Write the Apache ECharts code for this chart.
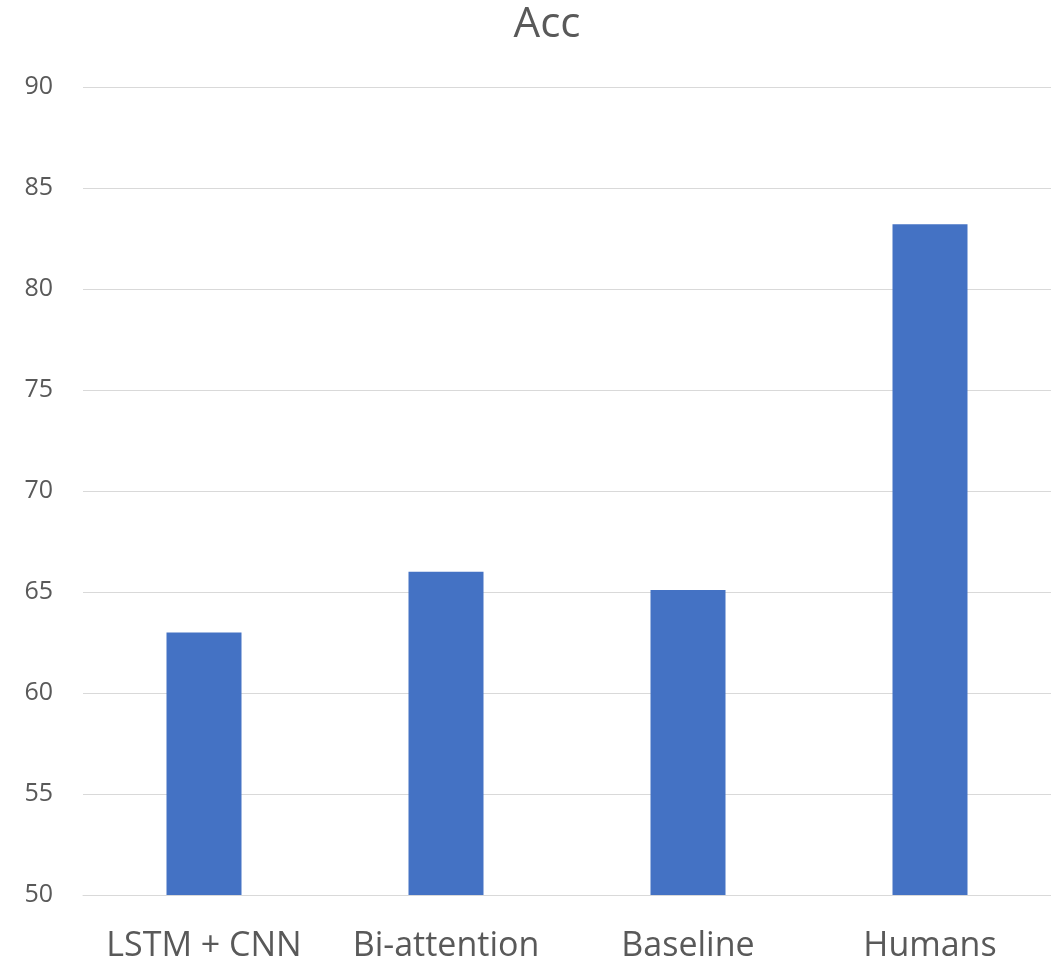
<!DOCTYPE html>
<html>
<head>
<meta charset="utf-8">
<script src="https://cdn.jsdelivr.net/npm/echarts@6/dist/echarts.min.js"></script>
<style>
html,body{margin:0;padding:0;background:#fff;}
#chart{width:1051px;height:968px;}
</style>
</head>
<body>
<div id="chart"></div>
<script>
const categories = ['LSTM + CNN', 'Bi-attention', 'Baseline', 'Humans'];
const accValues = [63.0, 66.0, 65.1, 83.2];
const chartTitle = 'Acc';

const FONT = '"Open Sans", "Noto Sans", sans-serif';
const chart = echarts.init(document.getElementById('chart'));
chart.setOption({
  animation: false,
  backgroundColor: '#ffffff',
  title: {
    text: chartTitle,
    left: 542,
    top: -1,
    textAlign: 'center',
    textStyle: { fontFamily: FONT, fontSize: 42, fontWeight: 'normal', color: '#595959' }
  },
  grid: { left: 83, top: 87, width: 970, height: 808, containLabel: false },
  xAxis: {
    type: 'category',
    data: categories,
    axisLine: { show: true, lineStyle: { color: '#d9d9d9', width: 1 } },
    axisTick: { show: false },
    axisLabel: { interval: 0, hideOverlap: false, margin: 34, fontFamily: FONT, fontSize: 34, color: '#595959' }
  },
  yAxis: {
    type: 'value',
    min: 50, max: 90, interval: 5,
    axisLine: { show: false },
    axisTick: { show: false },
    splitLine: { lineStyle: { color: '#d9d9d9', width: 1 } },
    axisLabel: { margin: 30, fontFamily: FONT, fontSize: 25, color: '#595959' }
  },
  series: [{
    type: 'bar',
    data: accValues,
    barWidth: 75,
    itemStyle: { color: '#4472C4' }
  }]
});
</script>
</body>
</html>
